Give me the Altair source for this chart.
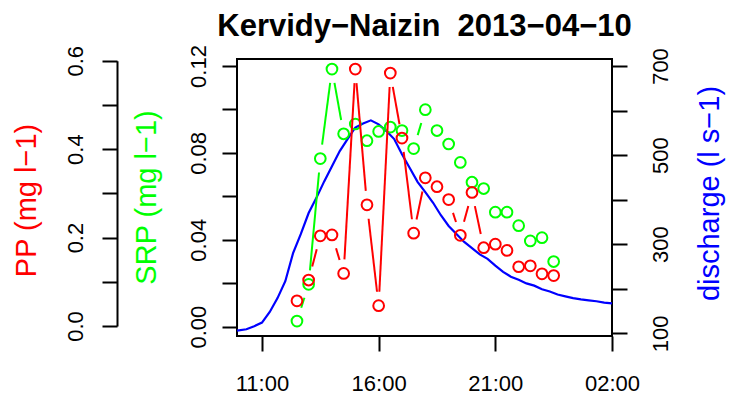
import math
import altair as alt
import pandas as pd

# ---------------- data ----------------
sample_times = ["12:30", "13:00", "13:30", "14:00", "14:30", "15:00", "15:30", "16:00",
                "16:30", "17:00", "17:30", "18:00", "18:30", "19:00", "19:30", "20:00",
                "20:30", "21:00", "21:30", "22:00", "22:30", "23:00", "23:30"]
pp_values = [0.057, 0.104, 0.204, 0.206, 0.119, 0.581, 0.274, 0.046, 0.572, 0.425,
             0.210, 0.335, 0.315, 0.286, 0.205, 0.302, 0.177, 0.185, 0.171, 0.134,
             0.136, 0.118, 0.114]
srp_values = [0.0026, 0.0195, 0.0774, 0.1186, 0.0888, 0.0933, 0.0856, 0.0899, 0.0919,
              0.0903, 0.0820, 0.0999, 0.0903, 0.0841, 0.0756, 0.0665, 0.0636, 0.0527,
              0.0527, 0.0465, 0.0395, 0.0410, 0.0300]

q_times = ["09:56", "10:20", "10:40", "11:00", "11:20", "11:40", "12:00", "12:20", "12:40",
           "13:00", "13:20", "13:40", "14:00", "14:20", "14:40", "15:00", "15:20", "15:40",
           "16:00", "16:20", "16:40", "17:00", "17:20", "17:40", "18:00", "18:20", "18:40",
           "19:00", "19:20", "19:40", "20:00", "20:20", "20:40", "21:00", "21:20", "21:40",
           "22:00", "22:20", "22:40", "23:00", "23:20", "23:40", "00:00", "00:20", "00:40",
           "01:00", "01:20", "01:40", "02:00"]
q_values = [106, 109, 116, 124, 148, 179, 217, 280, 323, 370, 404, 441, 475, 509, 536, 562,
            571, 578, 569, 554, 536, 502, 471, 440, 417, 393, 365, 341, 323, 305, 291, 277,
            267, 252, 238, 227, 220, 212, 207, 199, 194, 187, 183, 179, 176, 174, 172, 169, 167]

x_ticks = [11, 16, 21, 26]
pp_ticks = [0.0, 0.1, 0.2, 0.3, 0.4, 0.5, 0.6]
srp_ticks = [0.0, 0.02, 0.04, 0.06, 0.08, 0.10, 0.12]
q_ticks = [100, 200, 300, 400, 500, 600, 700]

TITLE = "Kervidy\u2212Naizin\u00a0 2013\u221204\u221210"
FONT = "Liberation Sans"
RED, GREEN, BLUE = "#FF0000", "#00FF00", "#0000FF"

# ---------------- layout / scales ----------------
W, H = 375, 277
X_DOM = [9.93, 26.0]
PP_DOM, PP_RANGE = [0.0, 0.6], [267.0, 1.7]
SRP_DOM, SRP_RANGE = [0.0, 0.12], [267.7, 7.0]
Q_DOM, Q_RANGE = [100, 700], [274.3, 7.0]
GAP = 14  # R type="b" gap around each symbol, in pixels


def to_hours(s):
    h, m = map(int, s.split(":"))
    v = h + m / 60.0
    return v + 24 if h < 9 else v


xs = [to_hours(t) for t in sample_times]
pts = pd.DataFrame({"x": xs, "pp": pp_values, "srp": srp_values})
qdf = pd.DataFrame({"x": [to_hours(t) for t in q_times], "q": q_values})


def segments(xv, yv, dom, rng):
    kx = W / (X_DOM[1] - X_DOM[0])
    ky = (rng[0] - rng[1]) / (dom[1] - dom[0])
    rows = []
    for i in range(len(xv) - 1):
        dx, dy = xv[i + 1] - xv[i], yv[i + 1] - yv[i]
        L = math.hypot(dx * kx, dy * ky)
        if L > 2 * GAP:
            f = GAP / L
            rows.append({"x": xv[i] + f * dx, "y": yv[i] + f * dy,
                         "x2": xv[i + 1] - f * dx, "y2": yv[i + 1] - f * dy})
    return pd.DataFrame(rows)


pp_seg = segments(xs, pp_values, PP_DOM, PP_RANGE)
srp_seg = segments(xs, srp_values, SRP_DOM, SRP_RANGE)

x_scale = alt.Scale(domain=X_DOM, nice=False, zero=False)
x_axis = alt.Axis(values=x_ticks,
                  labelExpr="(datum.value % 24 < 10 ? '0' : '') + (datum.value % 24) + ':00'",
                  title=None, domain=False, grid=False, tickSize=15, tickWidth=2,
                  tickColor="black", labelFont=FONT, labelFontSize=22, labelColor="black",
                  labelBaseline="alphabetic", labelPadding=39, labelFlush=False,
                  labelOverlap=False)


def X(field="x"):
    return alt.X(f"{field}:Q", scale=x_scale, axis=x_axis)


def yaxis(orient, offset, values, expr, title, color, title_x, title_y, pad, domain):
    return alt.Axis(orient=orient, offset=offset, values=values, labelExpr=expr,
                    title=title, titleColor=color, titleFont=FONT, titleFontSize=29,
                    titleFontWeight="normal", titleAngle=270, titleBaseline="alphabetic",
                    titleAlign="center", titleX=title_x, titleY=title_y,
                    domain=domain, domainColor="black", domainWidth=2,
                    tickSize=15, tickWidth=2, tickColor="black",
                    labelAngle=270, labelAlign="center", labelBaseline="alphabetic",
                    labelPadding=pad, labelFont=FONT, labelFontSize=22,
                    labelColor="black", labelOverlap=False, labelFlush=False, grid=False)


pp_scale = alt.Scale(domain=PP_DOM, range=PP_RANGE, nice=False, zero=False)
srp_scale = alt.Scale(domain=SRP_DOM, range=SRP_RANGE, nice=False, zero=False)
q_scale = alt.Scale(domain=Q_DOM, range=Q_RANGE, nice=False, zero=False)

pp_axis = yaxis("left", 120, pp_ticks,
                "round(datum.value*10) % 2 == 0 ? format(datum.value, '.1f') : ''",
                "PP (mg l\u22121)", RED, -82, 141, 20, True)
srp_axis = yaxis("left", 0, srp_ticks,
                 "round(datum.value*50) % 2 == 0 ? format(datum.value, '.2f') : ''",
                 "SRP (mg l\u22121)", GREEN, -82, 138, 17, False)
q_axis = yaxis("right", 0, q_ticks,
               "round(datum.value/100) % 2 == 1 ? format(datum.value, 'd') : ''",
               "discharge (l s\u22121)", BLUE, 106, 134, 40, False)

q_line = alt.Chart(qdf).mark_line(color=BLUE, strokeWidth=2.2).encode(
    x=X(), y=alt.Y("q:Q", scale=q_scale, axis=q_axis))

srp_rules = alt.Chart(srp_seg).mark_rule(color=GREEN, strokeWidth=2).encode(
    x=X(), x2="x2:Q",
    y=alt.Y("y:Q", scale=srp_scale, axis=None), y2="y2:Q")
srp_pts = alt.Chart(pts).mark_point(shape="circle", filled=False, size=115, strokeWidth=2,
                                    color=GREEN, opacity=1).encode(
    x=X(), y=alt.Y("srp:Q", scale=srp_scale, axis=srp_axis))

pp_rules = alt.Chart(pp_seg).mark_rule(color=RED, strokeWidth=2).encode(
    x=X(), x2="x2:Q",
    y=alt.Y("y:Q", scale=pp_scale, axis=None), y2="y2:Q")
pp_pts = alt.Chart(pts).mark_point(shape="circle", filled=False, size=115, strokeWidth=2,
                                   color=RED, opacity=1).encode(
    x=X(), y=alt.Y("pp:Q", scale=pp_scale, axis=pp_axis))

chart = alt.layer(q_line, srp_rules, srp_pts, pp_rules, pp_pts).resolve_scale(
    y="independent"
).properties(
    width=W, height=H,
    autosize=alt.AutoSizeParams(type="none"),
    padding={"left": 229, "top": 51, "right": 114, "bottom": 59},
    title=alt.TitleParams(text=TITLE, font=FONT, fontSize=31, fontWeight="bold",
                          color="black", anchor="middle", frame="group",
                          baseline="alphabetic", offset=8, dy=30),
).configure_view(stroke="black", strokeWidth=2)

chart.save("out.html", embed_options={"renderer": "svg", "actions": False})
